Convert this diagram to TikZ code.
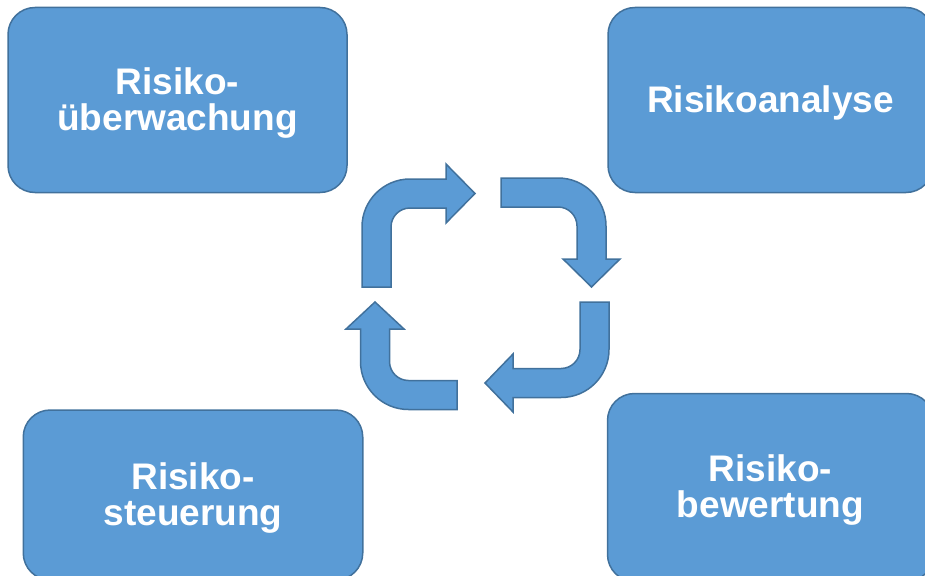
\documentclass[tikz,border=0pt]{standalone}
\usepackage{fontspec}
\setmainfont{Liberation Sans}
\usepackage{xcolor}
\definecolor{boxblue}{HTML}{5B9BD5}
\definecolor{boxline}{HTML}{41719C}

\tikzset{
	riskbox/.style = {rectangle,
		rounded corners = 27pt,
		draw = boxline,
		line width = 1.5pt,
		text = white,
		fill = boxblue,
		align = center,
		font = \bfseries\fontsize{37}{36}\selectfont,
		text depth = 2pt,
		inner sep = 0pt},
	cyclearrow/.style = {draw = boxline,
		fill = boxblue,
		line width = 1.5pt,
		line join = miter}
}

\begin{document}
\begin{tikzpicture}[x=1pt, y=-1pt]
			
			\useasboundingbox (0,0) rectangle (925,575);
			\clip (0,0) rectangle (925,575);
			
			\node[riskbox,
			minimum width = 339pt,
			minimum height = 185pt] (ueberwachung) at (177.5,100) {Risiko-\\überwachung};
			
			\node[riskbox,
			minimum width = 325pt,
			minimum height = 185pt] (analyse) at (770.5,100) {Risikoanalyse};
			
			\node[riskbox,
			minimum width = 339.5pt,
			minimum height = 170pt] (steuerung) at (193,495) {Risiko-\\steuerung};
			
			\node[riskbox,
			minimum width = 326pt,
			minimum height = 188pt] (bewertung) at (770.5,487.5) {Risiko-\\bewertung};
			
			% kreislauf in der mitte
			\draw[cyclearrow] (362,287) -- (362,227)
			arc[start angle=180, end angle=90, radius=48pt] -- (446,179)
			-- (446,164) -- (475,193.5) -- (446,223) -- (446,208) -- (410,208)
			arc[start angle=90, end angle=180, radius=19pt] -- (391,287) -- cycle;
			
			\draw[cyclearrow] (501,178) -- (558,178)
			arc[start angle=90, end angle=0, radius=48pt] -- (606,259)
			-- (620,259) -- (591.5,287) -- (563,259) -- (577,259) -- (577,226)
			arc[start angle=0, end angle=90, radius=19pt] -- (501,207) -- cycle;
			
			\draw[cyclearrow] (609,302) -- (609,349.5)
			arc[start angle=0, end angle=-90, radius=48pt] -- (513,397.5)
			-- (513,412) -- (485,383) -- (513,354) -- (513,368.5) -- (561,368.5)
			arc[start angle=-90, end angle=0, radius=19pt] -- (580,302) -- cycle;
			
			\draw[cyclearrow] (457,409.5) -- (408.5,409.5)
			arc[start angle=-90, end angle=-180, radius=48pt] -- (360.5,329)
			-- (346,329) -- (375,302) -- (404,329) -- (389.5,329) -- (389.5,361.5)
			arc[start angle=180, end angle=270, radius=19pt] -- (457,380.5) -- cycle;
			
		\end{tikzpicture}
\end{document}
